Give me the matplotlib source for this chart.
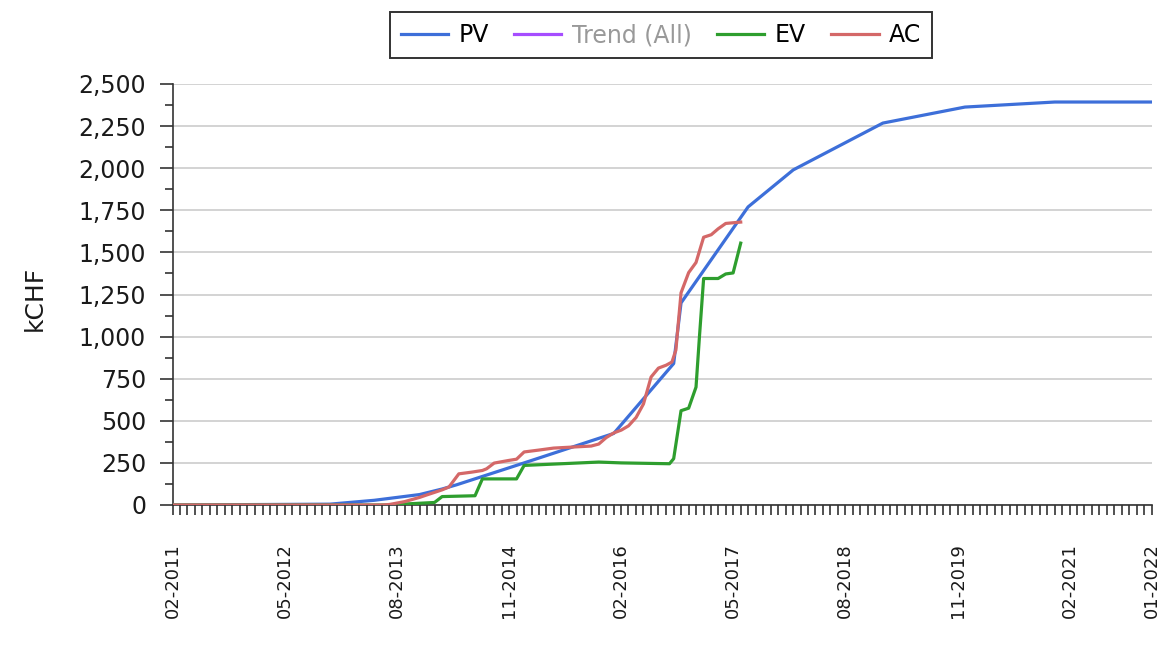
import pandas as pd
import matplotlib
matplotlib.use('Agg')
import matplotlib.pyplot as plt
import matplotlib.dates as mdates
from matplotlib.ticker import FuncFormatter, MultipleLocator

# データ (読み取り値, kCHF)
pv_dates = ['2011-02-01', '2012-11-01', '2013-05-01', '2013-08-01', '2013-11-01',
            '2014-02-01', '2014-04-01', '2015-01-01', '2016-01-01', '2016-09-01',
            '2016-10-01', '2017-07-01', '2018-01-01', '2019-01-01', '2019-12-01',
            '2020-12-01', '2022-01-01']
pv_values = [0, 5, 28, 45, 62, 95, 120, 250, 425, 840,
             1200, 1770, 1990, 2268, 2363, 2393, 2393]

ev_dates = ['2011-02-01', '2013-06-15', '2014-01-01', '2014-02-01', '2014-06-15',
            '2014-07-15', '2014-12-01', '2015-01-01', '2015-11-01', '2016-02-01',
            '2016-08-15', '2016-09-01', '2016-10-01', '2016-11-01', '2016-12-01',
            '2016-12-15', '2017-01-01', '2017-03-01', '2017-04-01', '2017-05-01',
            '2017-06-01']
ev_values = [0, 0, 15, 50, 55, 155, 155, 235, 255, 250,
             245, 275, 560, 575, 700, 1000, 1345, 1345, 1372, 1378, 1555]

ac_dates = ['2011-02-01', '2013-06-01', '2013-07-01', '2013-09-01', '2013-11-01',
            '2013-12-01', '2014-02-01', '2014-03-01', '2014-04-10', '2014-06-01',
            '2014-07-15', '2014-08-01', '2014-09-01', '2014-11-01', '2014-12-01',
            '2015-01-01', '2015-03-01', '2015-05-01', '2015-10-01', '2015-11-01',
            '2015-12-01', '2016-01-01', '2016-02-01', '2016-03-01', '2016-04-01',
            '2016-05-01', '2016-06-01', '2016-07-01', '2016-08-01', '2016-08-25',
            '2016-09-10', '2016-10-01', '2016-11-01', '2016-12-01', '2017-01-01',
            '2017-02-01', '2017-03-01', '2017-04-01', '2017-06-01']
ac_values = [0, 0, 3, 20, 45, 60, 90, 107, 185, 195,
             205, 215, 249, 265, 272, 315, 326, 338, 350, 362,
             400, 428, 445, 470, 520, 600, 760, 813, 830, 849,
             920, 1260, 1380, 1440, 1590, 1605, 1640, 1672, 1680]

tick_labels = ['02-2011', '05-2012', '08-2013', '11-2014', '02-2016',
               '05-2017', '08-2018', '11-2019', '02-2021', '01-2022']

# グラフの作成
fig = plt.figure(figsize=(11.73, 6.46), dpi=100)
ax = fig.add_axes([173 / 1173, 1 - 505 / 646, (1152 - 173) / 1173, (505 - 84) / 646])

lw = 2.3
ax.plot(pd.to_datetime(pv_dates), pv_values, color='#3d6fd9', lw=lw, label='PV', zorder=3)
ax.plot([], [], color='#a64dff', lw=lw, label='Trend (All)')
ax.plot(pd.to_datetime(ev_dates), ev_values, color='#2e9e2e', lw=lw, label='EV', zorder=3)
ax.plot(pd.to_datetime(ac_dates), ac_values, color='#d46868', lw=lw, label='AC', zorder=4)

# 軸の設定
ax.set_xlim(pd.Timestamp('2011-02-01'), pd.Timestamp('2022-01-01'))
ax.set_ylim(0, 2500)
ax.yaxis.set_major_locator(MultipleLocator(250))
ax.yaxis.set_minor_locator(MultipleLocator(125))
ax.yaxis.set_major_formatter(FuncFormatter(lambda v, p: f'{v:,.0f}'))
ax.grid(axis='y', color='#d0d0d0', lw=1.3)
ax.set_axisbelow(True)

tick_pos = [mdates.date2num(pd.to_datetime(t, format='%m-%Y')) for t in tick_labels]
ax.set_xticks(tick_pos)
ax.set_xticklabels(tick_labels, rotation=90)
ax.xaxis.set_minor_locator(mdates.MonthLocator())

for s in ['top', 'right']:
    ax.spines[s].set_visible(False)
for s in ['left', 'bottom']:
    ax.spines[s].set_color('#333333')
    ax.spines[s].set_linewidth(1.2)

ax.tick_params(axis='y', which='major', length=9.4, width=1.2, color='#333333',
               labelsize=17, pad=10, labelcolor='#1a1a1a')
ax.tick_params(axis='y', which='minor', length=5.8, width=1.2, color='#333333')
ax.tick_params(axis='x', which='both', length=7.5, width=1.2, color='#333333',
               direction='out')
ax.tick_params(axis='x', which='major', labelsize=13, pad=20, labelcolor='#1a1a1a')

ax.set_ylabel('kCHF', fontsize=18, color='#1a1a1a')
ax.yaxis.set_label_coords((47 - 173) / 979, (505 - 298) / 421)

leg = fig.legend(loc='center', bbox_to_anchor=(390 / 1173, 1 - 62 / 646, 542 / 1173, 54 / 646),
                 mode='expand', ncol=4, fontsize=17, frameon=True, fancybox=False,
                 edgecolor='black', handlelength=2.0, handletextpad=0.45,
                 borderpad=0.45, borderaxespad=0)
leg.get_frame().set_linewidth(1.4)
leg.get_texts()[1].set_color('#999999')

fig.savefig('out.png', dpi=100)
